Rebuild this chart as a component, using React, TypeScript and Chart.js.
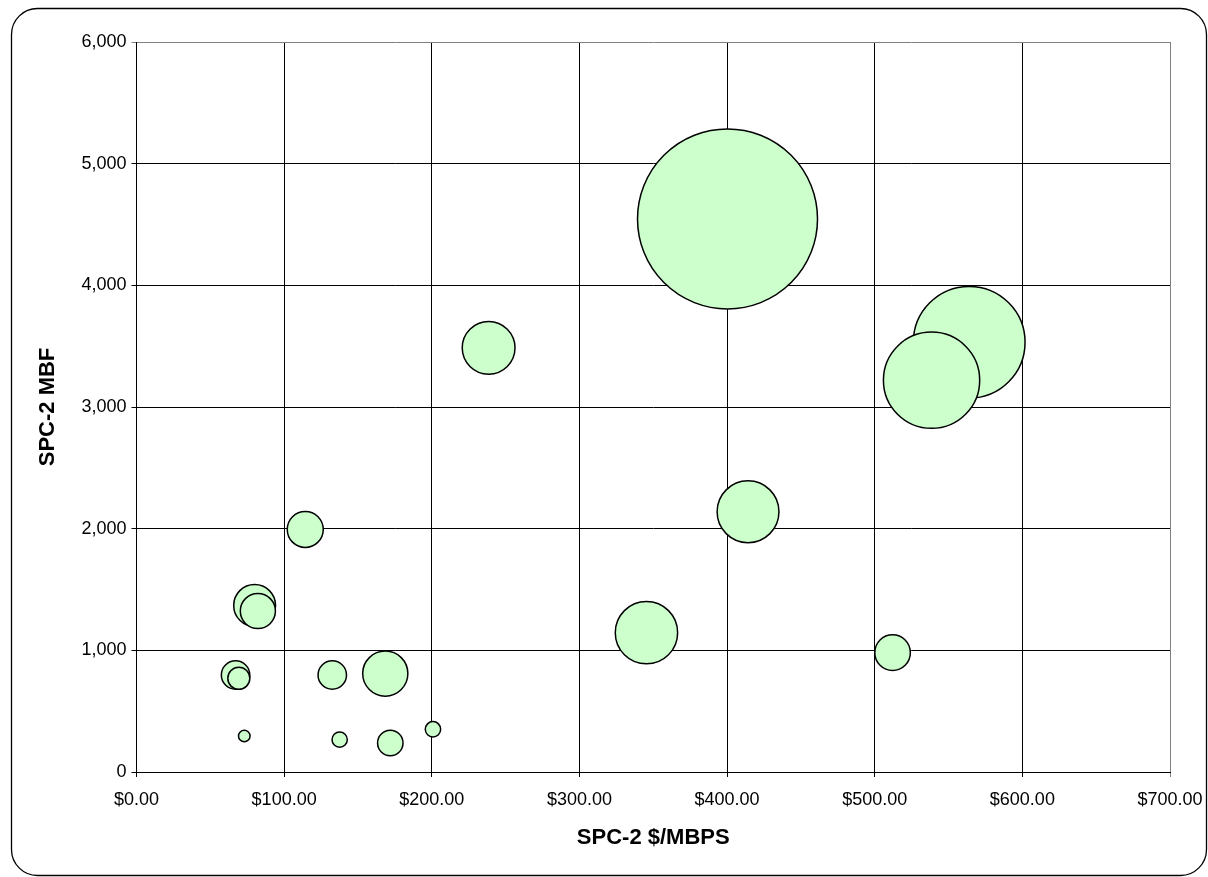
import { useEffect, useRef } from "react";
import { Chart, registerables } from "chart.js";

Chart.register(...registerables);

// SPC-2 price/performance per tested system
const costPerMbps = [400.3, 564.0, 538.5, 345.4, 414.2, 238.5, 168.5, 80.0, 114.3, 512.1, 82.2, 67.1, 132.6, 171.9, 69.3, 200.8, 137.6, 73.0];
const mbpsValues = [4546, 3532, 3220, 1145, 2139, 3486, 809, 1369, 1994, 981, 1323, 797, 797, 238, 770, 351, 266, 296];
// relative bubble size (area-proportional third value)
const bubbleSize = [100, 38.5, 28.6, 12.0, 11.8, 8.6, 6.3, 5.4, 4.0, 3.9, 3.8, 2.5, 2.5, 2.0, 1.5, 0.73, 0.72, 0.41];

const xTickValues = [0, 100, 200, 300, 400, 500, 600, 700];
const yTickValues = [0, 1000, 2000, 3000, 4000, 5000, 6000];

const xTitle = "SPC-2 $/MBPS";
const yTitle = "SPC-2 MBF";

const WIDTH = 1208;
const HEIGHT = 877;
const MAX_RADIUS = 90;

const FONT = "'Liberation Sans', Arial, Helvetica, sans-serif";

const frame = {
  id: "frame",
  beforeDraw(chart: Chart) {
    const ctx = chart.ctx;
    ctx.save();
    ctx.fillStyle = "#ffffff";
    ctx.fillRect(0, 0, chart.width, chart.height);
    ctx.restore();
  },
  afterDraw(chart: Chart) {
    const ctx = chart.ctx;
    ctx.save();
    ctx.strokeStyle = "#000000";
    ctx.lineWidth = 1.3;
    ctx.beginPath();
    (ctx as any).roundRect(11.5, 8.5, 1195, 867, 26);
    ctx.stroke();
    ctx.restore();
  },
};

export default function App() {
  const canvasRef = useRef<HTMLCanvasElement | null>(null);

  useEffect(() => {
    if (!canvasRef.current) return;
    const maxSize = Math.max(...bubbleSize);
    const points = costPerMbps.map((x, i) => ({
      x,
      y: mbpsValues[i],
      r: MAX_RADIUS * Math.sqrt(bubbleSize[i] / maxSize),
    }));

    const xMax = xTickValues[xTickValues.length - 1];
    const yMax = yTickValues[yTickValues.length - 1];

    const chart = new Chart(canvasRef.current, {
      type: "bubble",
      data: {
        datasets: [
          {
            data: points,
            backgroundColor: "#CCFFCC",
            borderColor: "#000000",
            borderWidth: 1.5,
            clip: false,
          },
        ],
      },
      plugins: [frame],
      options: {
        responsive: false,
        animation: false,
        devicePixelRatio: 1,
        layout: { autoPadding: false, padding: { left: 0, top: 42, right: 38, bottom: 0 } },
        plugins: {
          legend: { display: false },
          tooltip: { enabled: false },
        },
        scales: {
          x: {
            type: "linear",
            min: xTickValues[0],
            max: xMax,
            afterBuildTicks: (scale: any) => {
              scale.ticks = xTickValues.map((v) => ({ value: v }));
            },
            afterFit: (scale: any) => {
              scale.height = HEIGHT - 772;
              scale.paddingLeft = 0;
              scale.paddingRight = 0;
            },
            grid: {
              color: (ctx: any) => (ctx.tick && ctx.tick.value === xMax ? "#808080" : "#000000"),
              lineWidth: 1,
              tickLength: 5,
              drawTicks: true,
            },
            border: { color: "#000000", width: 1 },
            ticks: {
              padding: 12,
              color: "#000000",
              font: { family: FONT, size: 18 },
              maxRotation: 0,
              autoSkip: false,
              callback: (v: any) => "$" + Number(v).toFixed(2),
            },
            title: {
              display: true,
              text: xTitle,
              color: "#000000",
              font: { family: FONT, size: 22, weight: "bold" },
              padding: { top: 0, bottom: 25.8 },
            },
          },
          y: {
            type: "linear",
            min: yTickValues[0],
            max: yMax,
            afterBuildTicks: (scale: any) => {
              scale.ticks = yTickValues.map((v) => ({ value: v }));
            },
            afterFit: (scale: any) => {
              scale.width = 136.5;
              scale.paddingTop = 0;
              scale.paddingBottom = 0;
            },
            grid: {
              color: (ctx: any) => (ctx.tick && ctx.tick.value === yMax ? "#808080" : "#000000"),
              lineWidth: 1,
              tickLength: 5,
              drawTicks: true,
            },
            border: { color: "#000000", width: 1 },
            ticks: {
              padding: 5,
              color: "#000000",
              font: { family: FONT, size: 18 },
              autoSkip: false,
              callback: (v: any) => Number(v).toLocaleString("en-US"),
            },
            title: {
              display: true,
              text: yTitle,
              color: "#000000",
              font: { family: FONT, size: 22, weight: "bold" },
              padding: { top: 34.5, bottom: 0 },
            },
          },
        },
      },
    });

    return () => chart.destroy();
  }, []);

  return (
    <div style={{ position: "fixed", left: 0, top: 0, width: WIDTH, height: HEIGHT, background: "#fff" }}>
      <canvas ref={canvasRef} width={WIDTH} height={HEIGHT} style={{ display: "block" }} />
    </div>
  );
}
